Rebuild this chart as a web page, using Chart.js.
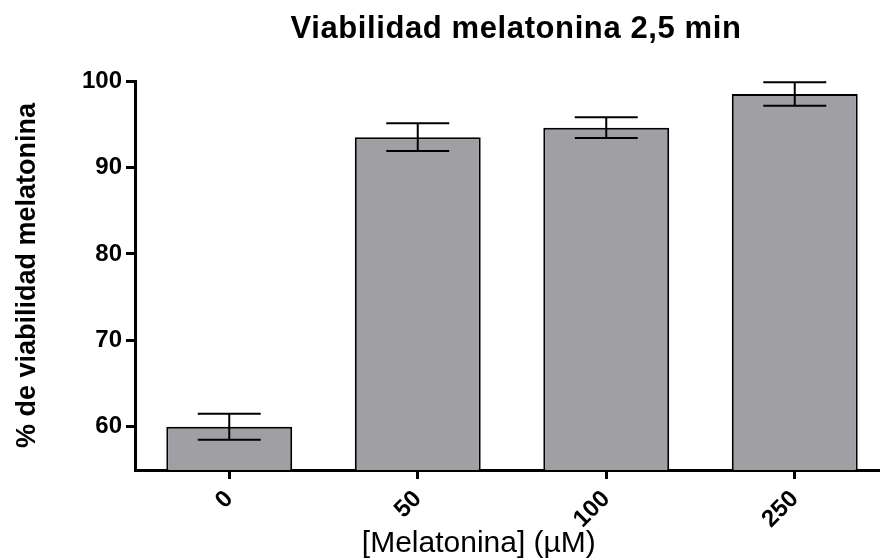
<!DOCTYPE html>
<html><head><meta charset="utf-8">
<style>html,body{margin:0;padding:0;overflow:hidden;background:#fff}canvas{display:block}</style>
<script src="https://cdn.jsdelivr.net/npm/chart.js@4"></script>
</head><body>
<canvas id="c" width="892" height="558"></canvas>
<script>
const categories = ['0', '50', '100', '250'];
const means = [60.0, 93.5, 94.6, 98.5];
const sem = [1.5, 1.6, 1.2, 1.35];
const yTicks = [60, 70, 80, 90, 100];
const titleText = 'Viabilidad melatonina 2,5 min';
const xTitle = '[Melatonina] (\u00B5M)';
const yTitle = '% de viabilidad melatonina';

const FF = "'Liberation Sans', Arial, Helvetica, sans-serif";

const errorBars = {
  id: 'errorBars',
  afterDatasetsDraw(chart) {
    const ctx = chart.ctx;
    const meta = chart.getDatasetMeta(0);
    const ys = chart.scales.y;
    ctx.save();
    ctx.strokeStyle = '#000';
    ctx.lineWidth = 2;
    meta.data.forEach((bar, i) => {
      const x = bar.x;
      const yt = ys.getPixelForValue(means[i] + sem[i]);
      const yb = ys.getPixelForValue(means[i] - sem[i]);
      const hw = 31.5;
      ctx.beginPath();
      ctx.moveTo(x, yt); ctx.lineTo(x, yb);
      ctx.moveTo(x - hw, yt); ctx.lineTo(x + hw, yt);
      ctx.moveTo(x - hw, yb); ctx.lineTo(x + hw, yb);
      ctx.stroke();
    });
    ctx.restore();
  }
};

const texts = {
  id: 'texts',
  afterDraw(chart) {
    const ctx = chart.ctx;
    const a = chart.chartArea;
    ctx.save();
    ctx.fillStyle = '#000';
    // title
    ctx.font = 'bold 31px ' + FF;
    ctx.letterSpacing = '0.6px';
    ctx.textAlign = 'center';
    ctx.textBaseline = 'alphabetic';
    ctx.fillText(titleText, (a.left + a.right) / 2 + 4, 38);
    ctx.letterSpacing = '0px';
    // x title
    ctx.font = '30px ' + FF;
    ctx.fillText(xTitle, a.left + 0.456 * (a.right - a.left), 552);
    // y title
    ctx.font = 'bold 27px ' + FF;
    ctx.translate(35, (a.top + a.bottom) / 2);
    ctx.rotate(-Math.PI / 2);
    ctx.fillText(yTitle, 0, 0);
    ctx.restore();
  }
};

new Chart(document.getElementById('c'), {
  type: 'bar',
  data: {
    labels: categories,
    datasets: [{
      data: means,
      backgroundColor: '#a09fa4',
      borderColor: '#000',
      borderWidth: 2,
      barPercentage: 0.668,
      categoryPercentage: 1.0
    }]
  },
  options: {
    responsive: false,
    animation: false,
    layout: { padding: { top: 81, right: 3, left: 0, bottom: 0 } },
    plugins: { legend: { display: false }, title: { display: false }, tooltip: { enabled: false } },
    scales: {
      x: {
        offset: true,
        grid: { offset: false, drawOnChartArea: false, drawTicks: true, tickLength: 9, lineWidth: 3, color: '#000' },
        border: { display: true, width: 3, color: '#000' },
        ticks: { minRotation: 45, maxRotation: 45, color: '#000', padding: 6, font: { family: FF, size: 24, weight: 'bold' } },
        afterFit(scale) { scale.height = 88; }
      },
      y: {
        min: 55, max: 100,
        afterBuildTicks(scale) { scale.ticks = yTicks.map(v => ({ value: v })); },
        grid: { drawOnChartArea: false, drawTicks: true, tickLength: 9, lineWidth: 3, color: '#000' },
        border: { display: true, width: 3, color: '#000' },
        ticks: { color: '#000', padding: 4, font: { family: FF, size: 24, weight: 'bold' } },
        afterFit(scale) { scale.width = 135; }
      }
    }
  },
  plugins: [errorBars, texts]
});
</script>
</body></html>
